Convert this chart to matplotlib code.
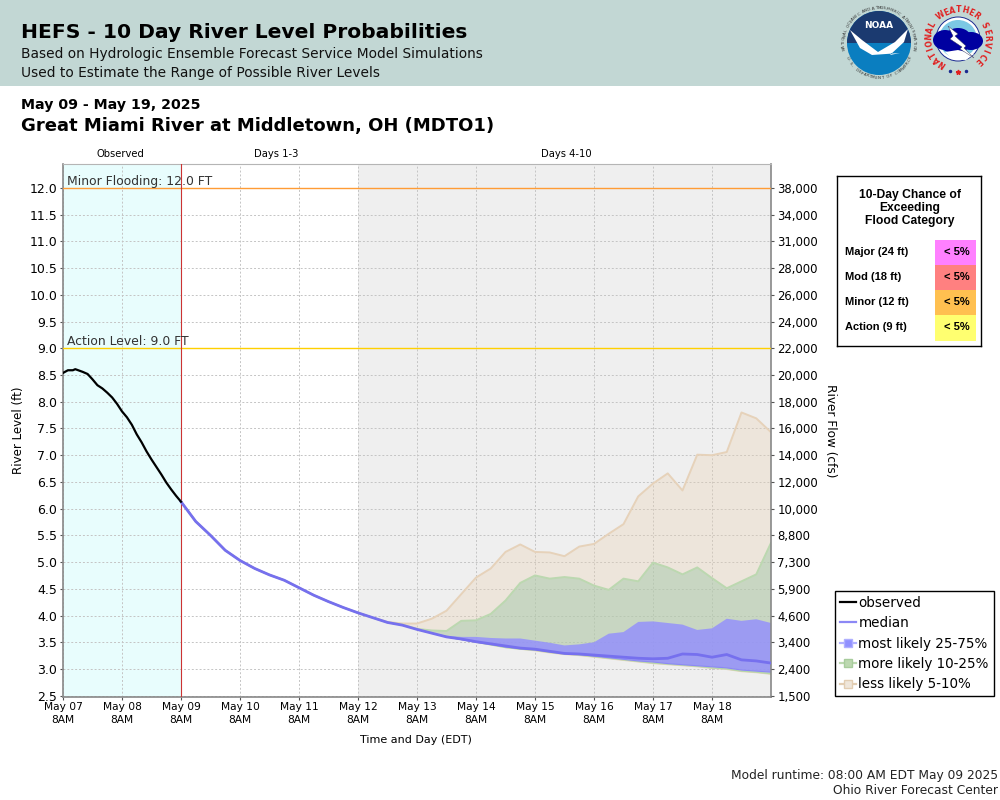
import numpy as np
import matplotlib
matplotlib.use('Agg')
import matplotlib.pyplot as plt
from matplotlib.patches import Circle, Ellipse, Rectangle, Polygon, Wedge
from matplotlib.lines import Line2D

# time is in hours since May 07 8AM
obs_hours = [0, 2, 4, 5, 8, 10, 12, 14, 16, 18, 20, 22, 24, 26, 28, 30, 32, 34, 36, 38, 40, 42, 44, 46, 48]
obs_level = [8.54, 8.59, 8.59, 8.61, 8.56, 8.52, 8.42, 8.31, 8.25, 8.17, 8.08, 7.96, 7.82, 7.71, 7.57,
             7.39, 7.24, 7.07, 6.92, 6.78, 6.64, 6.49, 6.36, 6.24, 6.13]

# 6 hourly forecast, May 09 8AM to May 19 8AM
fc_hours = list(range(48, 289, 6))
median = [6.13, 5.76, 5.50, 5.22, 5.03, 4.88, 4.76, 4.66, 4.52, 4.38, 4.26, 4.15, 4.05, 3.96, 3.87, 3.82,
          3.74, 3.67, 3.60, 3.56, 3.51, 3.47, 3.43, 3.39, 3.37, 3.33, 3.29, 3.28, 3.26, 3.24, 3.22, 3.20,
          3.19, 3.20, 3.28, 3.27, 3.22, 3.27, 3.17, 3.15, 3.11]
p25 = [6.13, 5.76, 5.50, 5.22, 5.03, 4.88, 4.76, 4.66, 4.52, 4.38, 4.26, 4.15, 4.05, 3.96, 3.87, 3.82,
       3.74, 3.67, 3.60, 3.55, 3.50, 3.46, 3.41, 3.38, 3.36, 3.32, 3.29, 3.27, 3.24, 3.21, 3.18, 3.15,
       3.13, 3.10, 3.08, 3.06, 3.04, 3.02, 2.98, 2.96, 2.94]
p75 = [6.13, 5.76, 5.50, 5.22, 5.03, 4.88, 4.76, 4.66, 4.52, 4.38, 4.26, 4.15, 4.05, 3.96, 3.87, 3.82,
       3.74, 3.68, 3.62, 3.60, 3.60, 3.58, 3.57, 3.57, 3.53, 3.49, 3.44, 3.46, 3.50, 3.66, 3.69, 3.88,
       3.89, 3.86, 3.83, 3.73, 3.76, 3.94, 3.90, 3.93, 3.86]
p10 = [6.13, 5.76, 5.50, 5.22, 5.03, 4.88, 4.76, 4.66, 4.52, 4.38, 4.26, 4.15, 4.05, 3.96, 3.87, 3.82,
       3.74, 3.67, 3.60, 3.55, 3.50, 3.45, 3.40, 3.37, 3.35, 3.31, 3.28, 3.26, 3.23, 3.20, 3.17, 3.14,
       3.11, 3.09, 3.07, 3.05, 3.02, 3.00, 2.96, 2.94, 2.91]
p90 = [6.13, 5.76, 5.50, 5.22, 5.03, 4.88, 4.76, 4.66, 4.52, 4.38, 4.26, 4.15, 4.05, 3.96, 3.87, 3.83,
       3.75, 3.72, 3.71, 3.90, 3.91, 4.03, 4.28, 4.61, 4.75, 4.69, 4.72, 4.69, 4.56, 4.48, 4.69, 4.64,
       4.99, 4.90, 4.77, 4.90, 4.70, 4.51, 4.64, 4.77, 5.36]
p5 = [6.13, 5.76, 5.50, 5.22, 5.03, 4.88, 4.76, 4.66, 4.52, 4.38, 4.26, 4.15, 4.05, 3.96, 3.87, 3.82,
      3.74, 3.67, 3.60, 3.55, 3.50, 3.45, 3.40, 3.37, 3.34, 3.30, 3.27, 3.25, 3.22, 3.19, 3.16, 3.13,
      3.10, 3.08, 3.06, 3.04, 3.01, 2.99, 2.95, 2.93, 2.90]
p95 = [6.13, 5.76, 5.50, 5.22, 5.03, 4.88, 4.76, 4.66, 4.52, 4.38, 4.26, 4.15, 4.05, 3.96, 3.88, 3.85,
       3.85, 3.94, 4.09, 4.40, 4.71, 4.88, 5.19, 5.33, 5.19, 5.18, 5.11, 5.29, 5.34, 5.53, 5.71, 6.23,
       6.47, 6.66, 6.34, 7.01, 7.00, 7.06, 7.80, 7.69, 7.43]

day_labels = ['May 07', 'May 08', 'May 09', 'May 10', 'May 11', 'May 12', 'May 13', 'May 14', 'May 15', 'May 16', 'May 17', 'May 18']
level_ticks = [2.5, 3.0, 3.5, 4.0, 4.5, 5.0, 5.5, 6.0, 6.5, 7.0, 7.5, 8.0, 8.5, 9.0, 9.5, 10.0, 10.5, 11.0, 11.5, 12.0]
flow_labels = ['1,500', '2,400', '3,400', '4,600', '5,900', '7,300', '8,800', '10,000', '12,000', '14,000',
               '16,000', '18,000', '20,000', '22,000', '24,000', '26,000', '28,000', '31,000', '34,000', '38,000']
categories = ['Major (24 ft)', 'Mod (18 ft)', 'Minor (12 ft)', 'Action (9 ft)']
chances = ['< 5%', '< 5%', '< 5%', '< 5%']
cat_colors = ['#ff80ff', '#ff8080', '#ffc050', '#ffff70']

plt.rcParams['font.family'] = 'DejaVu Sans'
W, H = 1000, 800
fig = plt.figure(figsize=(10, 8), dpi=100, facecolor='white')


def px(x, y):
    # pixel coords (top left origin) to figure fraction
    return x / W, 1 - y / H


def label(x, y, s, **kw):
    fx, fy = px(x, y)
    kw.setdefault('va', 'center')
    return fig.text(fx, fy, s, **kw)


# header band, under the logo axes
fig.patches.append(Rectangle((0, 1 - 86 / H), 1, 86 / H, transform=fig.transFigure, fc='#c2d7d4', ec='none', zorder=-1))
label(21, 33, 'HEFS - 10 Day River Level Probabilities', fontsize=14.6, fontweight='bold', color='black')
label(21, 54, 'Based on Hydrologic Ensemble Forecast Service Model Simulations', fontsize=9.9, color='#111111')
label(21, 73, 'Used to Estimate the Range of Possible River Levels', fontsize=9.9, color='#111111')
label(21, 105, 'May 09 - May 19, 2025', fontsize=10.15, fontweight='bold')
label(21, 126, 'Great Miami River at Middletown, OH (MDTO1)', fontsize=13, fontweight='bold')

# main axes
ax = fig.add_axes([63 / W, 1 - 697 / H, (771 - 63) / W, (697 - 164) / H])
ax.set_xlim(0, 288)
ax.set_ylim(2.475, 12.45)
ax.axvspan(0, 48, color='#e8fdfd', lw=0, zorder=0)
ax.axvspan(120, 288, color='#efefef', lw=0, zorder=0)

day_ticks = np.arange(len(day_labels)) * 24
ax.set_xticks(day_ticks)
ax.set_xticklabels([d + '\n8AM' for d in day_labels], fontsize=7.7, linespacing=1.35)
ax.set_yticks(level_ticks)
ax.set_yticklabels(['%.1f' % v for v in level_ticks], fontsize=9)
ax.grid(True, color='#c4c4c4', linestyle=(0, (2, 2)), linewidth=0.7, zorder=1)
ax.set_axisbelow(True)
ax.tick_params(axis='both', length=2.5, width=0.8, color='#555555', pad=1.5)
ax.tick_params(axis='x', pad=1.4)
for name in ['left', 'right', 'bottom']:
    ax.spines[name].set_color('#888888')
    ax.spines[name].set_linewidth(1.2)
ax.spines['top'].set_color('#b5b5b5')
ax.set_ylabel('River Level (ft)', fontsize=8.6, labelpad=0)
ax.yaxis.set_label_coords(-0.053, 0.5)
ax.set_xlabel('Time and Day (EDT)', fontsize=8)
ax.xaxis.set_label_coords(0.499, -0.071)

# flood levels
ax.axhline(12.0, color='#ff9c35', lw=1.0, zorder=3)
ax.axhline(9.0, color='#ffd000', lw=1.0, zorder=3)
ax.text(1.5, 12.0, 'Minor Flooding: 12.0 FT', fontsize=8.9, color='#333333', va='bottom', zorder=6)
ax.text(1.5, 9.0, 'Action Level: 9.0 FT', fontsize=8.9, color='#333333', va='bottom', zorder=6)
ax.axvline(48, color='#cc3333', lw=0.8, zorder=4)

# probability bands
ax.fill_between(fc_hours, p5, p95, facecolor='#ebd1b0', alpha=0.3, lw=0, zorder=2)
ax.plot(fc_hours, p95, color='#e6d2ba', lw=1.4, zorder=2.1)
ax.plot(fc_hours, p5, color='#e6d2ba', lw=0.8, zorder=2.1)
ax.fill_between(fc_hours, p10, p90, facecolor='#a4c8aa', alpha=0.5, lw=0, zorder=2.2)
ax.plot(fc_hours, p90, color='#bcd8b0', lw=1.4, zorder=2.3)
ax.plot(fc_hours, p10, color='#b4d8a8', lw=0.9, zorder=2.3)
ax.fill_between(fc_hours, p25, p75, facecolor='#918dff', alpha=0.8, lw=0, zorder=2.4)
ax.plot(fc_hours, p25, color='#8c88f5', lw=0.8, zorder=2.5)
ax.plot(fc_hours, median, color='#7670ee', lw=2.0, zorder=5)
ax.plot(obs_hours, obs_level, color='black', lw=1.6, zorder=5.5)

# right axis uses its own labels at the same positions
ax2 = ax.twinx()
ax2.set_ylim(ax.get_ylim())
ax2.set_yticks(level_ticks)
ax2.set_yticklabels(flow_labels, fontsize=8.4)
ax2.tick_params(axis='y', length=2.5, width=0.8, color='#555555', pad=2)
for sp in ax2.spines.values():
    sp.set_visible(False)
label(831, 431, 'River Flow (cfs)', fontsize=8.7, rotation=270, ha='center')

# period titles
label(120, 154, 'Observed', fontsize=7.2, ha='center')
label(276.5, 154, 'Days 1-3', fontsize=7.2, ha='center')
label(566, 154, 'Days 4-10', fontsize=7.2, ha='center')

# chance of exceeding table
box = fig.add_axes([836.5 / W, 1 - 345.5 / H, 144 / W, 169.5 / H])
box.set_xlim(836.5, 980.5)
box.set_ylim(345.5, 176)
box.set_xticks([])
box.set_yticks([])
for sp in box.spines.values():
    sp.set_linewidth(1.0)
for yy, s in zip([195, 208, 221], ['10-Day Chance of', 'Exceeding', 'Flood Category']):
    box.text(910, yy, s, fontsize=8.7, fontweight='bold', family='Liberation Sans', ha='center', va='center')
row_top = [240, 265, 290, 315]
row_bot = [265, 290, 315, 341]
for top, bot, cat, chance, col in zip(row_top, row_bot, categories, chances, cat_colors):
    box.add_patch(Rectangle((935, top), 41, bot - top, fc=col, ec='none'))
    box.text(845, (top + bot) / 2 - 0.5, cat, fontsize=8, fontweight='bold', family='Liberation Sans', va='center')
    box.text(957, (top + bot) / 2 - 0.5, chance, fontsize=8, fontweight='bold', family='Liberation Sans', va='center', ha='center')

# legend
handles = [
    Line2D([], [], color='black', lw=1.6),
    Line2D([], [], color='#8c88f5', lw=1.6),
    Line2D([], [], color='#b0b0ff', lw=1.6, marker='s', ms=6, mfc='#9090ff', mec='#b0b0ff'),
    Line2D([], [], color='#bcd8b0', lw=1.6, marker='s', ms=6, mfc='#bcd8b0', mec='#a8cc9c'),
    Line2D([], [], color='#e2cdb2', lw=1.6, marker='s', ms=6, mfc='#efe6da', mec='#e2cdb2'),
]
leg = fig.legend(handles, ['observed', 'median', 'most likely 25-75%', 'more likely 10-25%', 'less likely 5-10%'],
                 loc='upper left', bbox_to_anchor=px(835, 591), borderaxespad=0, fontsize=9.75, frameon=True,
                 fancybox=False, edgecolor='black', framealpha=1, handlelength=1.17, handletextpad=0.2,
                 labelspacing=0.47, borderpad=0.36)
leg.get_frame().set_linewidth(1.0)

# footer
label(998, 776, 'Model runtime: 08:00 AM EDT May 09 2025', fontsize=8.83, ha='right', color='#222222')
label(998, 791, 'Ohio River Forecast Center', fontsize=8.83, ha='right', color='#222222')

# logos, drawn in pixel coords
logo = fig.add_axes([0, 1 - 86 / H, 1, 86 / H], facecolor='none')
logo.set_xlim(0, 1000)
logo.set_ylim(86, 0)
logo.axis('off')

# NOAA
logo.add_patch(Circle((879, 43), 32, fc='#0a7ec0', ec='none'))
logo.add_patch(Wedge((879, 43), 32, 180, 360, fc='#1b3a70', ec='none'))
logo.add_patch(Polygon([[850, 30], [862, 40], [878, 52], [895, 42], [908, 29], [904, 42], [890, 55], [900, 53],
                        [872, 55], [860, 48]], fc='white', ec='none'))
logo.text(879, 26, 'NOAA', color='white', fontsize=6.5, fontweight='bold', ha='center', va='center')
ring = 'NATIONAL OCEANIC AND ATMOSPHERIC ADMINISTRATION'
for i, ch in enumerate(ring):
    a = np.deg2rad(190 - i * 200 / (len(ring) - 1))
    logo.text(879 + 35 * np.cos(a), 43 - 35 * np.sin(a), ch, fontsize=3, color='#333333', ha='center', va='center',
              rotation=np.rad2deg(a) - 90)
bottom = 'U.S. DEPARTMENT OF COMMERCE'
for i, ch in enumerate(bottom):
    a = np.deg2rad(205 + i * 130 / (len(bottom) - 1))
    logo.text(879 + 35 * np.cos(a), 43 - 35 * np.sin(a), ch, fontsize=3, color='#333333', ha='center', va='center',
              rotation=np.rad2deg(a) + 90)

# NWS
logo.add_patch(Circle((958, 39), 22, fc='white', ec='#1a2a90', lw=0.7))
logo.add_patch(Circle((958, 39), 19, fc='#7cc8e4', ec='none'))
for cx, cy, w, h in [(945, 40, 24, 20), (958, 38, 26, 20), (971, 41, 24, 18), (955, 47, 26, 12)]:
    logo.add_patch(Ellipse((cx, cy), w, h, fc='#0000a0', ec='none'))
logo.add_patch(Polygon([[945, 52], [958, 50], [974, 54], [966, 60], [952, 59]], fc='white', ec='none'))
logo.add_patch(Polygon([[948, 26], [958, 34], [955, 36], [966, 46], [964, 48], [974, 58], [960, 49], [962, 47],
                        [950, 39], [953, 36]], fc='white', ec='#333355', lw=0.3))
top_ring = 'NATIONAL WEATHER SERVICE'
for i, ch in enumerate(top_ring):
    a = np.deg2rad(237 - i * 284 / (len(top_ring) - 1))
    logo.text(958 + 29 * np.cos(a), 39 - 29 * np.sin(a), ch, fontsize=5.6, fontweight='bold', color='#e02020',
              ha='center', va='center', rotation=np.rad2deg(a) - 90)
logo.plot([950, 966], [71, 71], ls='none', marker='o', ms=1.5, color='#1a2a90')
logo.plot([958], [72], ls='none', marker='*', ms=3.5, color='#e02020')

fig.savefig('out.png', dpi=100, facecolor='white')
